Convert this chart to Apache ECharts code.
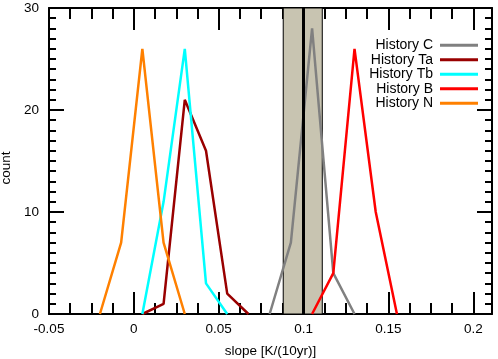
<!DOCTYPE html>
<html>
<head>
<meta charset="utf-8">
<script src="https://cdn.jsdelivr.net/npm/echarts@6/dist/echarts.min.js"></script>
<style>html,body{margin:0;padding:0;background:#fff}#c{width:498px;height:359px}</style>
</head>
<body>
<div id="c"></div>
<script>
// ---- data ----
const seriesNames = ['History C', 'History Ta', 'History Tb', 'History B', 'History N'];
const slopeC  = [0.08, 0.0925, 0.105, 0.1175, 0.13];
const countC  = [0, 7, 28, 4, 0];
const slopeTa = [0.005, 0.0175, 0.03, 0.0425, 0.055, 0.0675];
const countTa = [0, 1, 21, 16, 2, 0];
const slopeTb = [0.005, 0.0175, 0.03, 0.0425, 0.055];
const countTb = [0, 11, 26, 3, 0];
const slopeB  = [0.105, 0.1175, 0.13, 0.1425, 0.155];
const countB  = [0, 4, 26, 10, 0];
const slopeN  = [-0.02, -0.0075, 0.005, 0.0175, 0.03];
const countN  = [0, 7, 26, 7, 0];
const obsBand = [0.088, 0.111];
const obsSlope = 0.1;
const xTicks = [-0.05, 0, 0.05, 0.1, 0.15, 0.2];
const yTicks = [0, 10, 20, 30];

const colors = ['#808080', '#990000', '#00ffff', '#ff0000', '#ff8000'];
const xs = [slopeC, slopeTa, slopeTb, slopeB, slopeN];
const ys = [countC, countTa, countTb, countB, countN];

const FONT = 'Liberation Sans';
const FS = 13.5;

const xCommon = {
  type: 'value', min: xTicks[0], max: 0.211, interval: 0.05,
  axisLine: { onZero: false, lineStyle: { color: '#000', width: 2 } },
  axisTick: { inside: true, length: 22, lineStyle: { color: '#000', width: 2 } },
  minorTick: { show: true, splitNumber: 4, length: 11, lineStyle: { color: '#000', width: 2 } },
  splitLine: { show: false },
  minorSplitLine: { show: false }
};
const yCommon = {
  type: 'value', min: yTicks[0], max: yTicks[yTicks.length - 1], interval: 10,
  axisLine: { show: true, onZero: false, lineStyle: { color: '#000', width: 2 } },
  axisTick: { show: true, inside: true, length: 15, lineStyle: { color: '#000', width: 2 } },
  minorTick: { show: true, splitNumber: 10, length: 7, lineStyle: { color: '#000', width: 2 } },
  splitLine: { show: false },
  minorSplitLine: { show: false }
};

const series = seriesNames.map((name, i) => {
  const s = {
    name, type: 'line', xAxisIndex: 0, yAxisIndex: 0,
    data: xs[i].map((x, j) => [x, ys[i][j]]),
    showSymbol: false, symbol: 'none',
    lineStyle: { color: colors[i], width: 2.5 },
    itemStyle: { color: colors[i] },
    z: 3
  };
  if (i === 0) {
    s.markArea = {
      silent: true,
      itemStyle: { color: '#c8c4b1', borderColor: '#000', borderWidth: 1 },
      data: [[{ xAxis: obsBand[0] }, { xAxis: obsBand[1] }]]
    };
    s.markLine = {
      silent: true, symbol: ['none', 'none'],
      label: { show: false },
      lineStyle: { color: '#000', width: 3, type: 'solid' },
      data: [{ xAxis: obsSlope }]
    };
  }
  return s;
});

const chart = echarts.init(document.getElementById('c'), null, { renderer: 'canvas' });
chart.setOption({
  animation: false,
  backgroundColor: '#fff',
  textStyle: { fontFamily: FONT },
  grid: { left: 49, right: 6, top: 8, bottom: 45, containLabel: false, outerBoundsMode: 'none' },
  legend: {
    data: seriesNames.map((n, i) => ({ name: n, icon: 'rect', itemStyle: { color: colors[i] } })),
    orient: 'vertical', align: 'right', right: 20, top: 38, padding: 0,
    itemWidth: 38, itemHeight: 3, itemGap: 0,
    selectedMode: false,
    textStyle: { fontFamily: FONT, fontSize: 14, color: '#000', lineHeight: 14.5, padding: [0, 2, 0, 0] }
  },
  xAxis: [
    Object.assign({}, xCommon, {
      position: 'bottom',
      name: 'slope [K/(10yr)]', nameLocation: 'middle', nameGap: 30,
      nameTextStyle: { fontFamily: FONT, fontSize: FS, color: '#000' },
      axisLabel: { color: '#000', fontFamily: FONT, fontSize: FS, margin: 8, showMaxLabel: false }
    }),
    Object.assign({}, xCommon, { position: 'top', axisLabel: { show: false } })
  ],
  yAxis: [
    Object.assign({}, yCommon, {
      position: 'left',
      name: 'count', nameLocation: 'middle', nameGap: 32,
      nameTextStyle: { fontFamily: FONT, fontSize: FS, color: '#000', padding: [0, 14, 0, 0] },
      axisLabel: { color: '#000', fontFamily: FONT, fontSize: FS, margin: 10 }
    }),
    Object.assign({}, yCommon, { position: 'right', axisLabel: { show: false } })
  ],
  series
});
</script>
</body>
</html>
